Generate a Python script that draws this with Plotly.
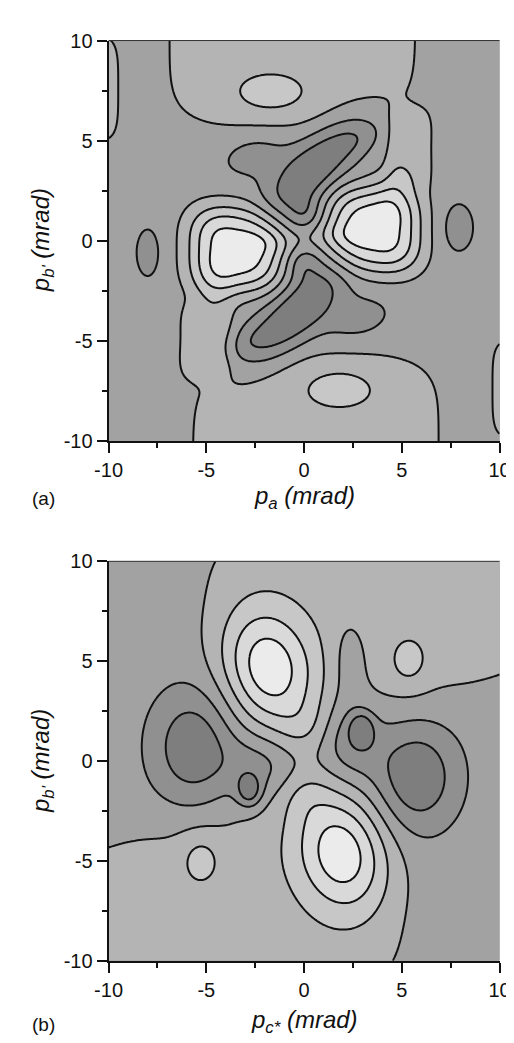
import numpy as np
import plotly.graph_objects as go

# ---------------- data: features of the two intensity maps ----------------
# per feature: centre (x0, y0) [mrad], amplitude [contour steps], widths (sx, sy) [mrad],
# tilt [deg], flatness exponents along / across (px, py)
a_name = ["top band", "bottom band", "left edge", "right edge",
          "left lobe", "right lobe", "left lobe tip", "right lobe tip",
          "left lobe corner", "right lobe corner", "left wedge", "right wedge",
          "upper well", "lower well", "upper well left", "lower well right",
          "upper well tip", "lower well tip", "upper neck", "lower neck",
          "upper spot", "lower spot", "left pit", "right pit"]
a_x0  = [-0.6, 0.6, -10.8, 10.8, -3.5, 3.6, -1.6, 1.6, -4.6, 4.6, -5.0, 5.4,
         0.3, -0.3, -2.6, 2.8, 2.7, -2.7, 0.05, -0.05, -1.7, 1.8, -8.0, 7.9]
a_y0  = [10.5, -10.5, 7.6, -7.4, -0.4, 0.5, -0.1, 0.3, -2.7, 2.7, -5.0, 4.6,
         3.45, -3.5, 4.3, -3.9, 5.1, -5.0, 1.35, -1.15, 7.25, -7.25, -0.6, 0.66]
a_amp = [1.0, 1.0, 1.0, 1.0, 4.1, 4.1, 0.7, 0.7, 0.8, 0.8, 0.9, 0.9,
         -2.5, -2.5, -0.9, -0.9, -0.7, -0.7, -1.0, -1.0, 1.0, 1.0, -1.0, -1.0]
a_sx  = [4.72, 4.72, 1.0, 0.9, 1.67, 1.67, 1.1, 1.1, 0.8, 0.8, 1.0, 0.85,
         2.4, 2.4, 1.3, 1.3, 1.0, 1.0, 0.6, 0.6, 1.7, 1.7, 0.48, 0.63]
a_sy  = [3.49, 3.49, 2.0, 1.85, 1.5, 1.5, 0.5, 0.5, 1.1, 1.1, 1.3, 1.4,
         0.9, 0.9, 0.8, 0.8, 0.55, 0.55, 0.6, 0.6, 0.95, 0.95, 0.99, 1.0]
a_ang = [0, 0, 0, 0, 0, 0, 0, 0, -25, -25, 0, 0,
         44, 44, 15, 15, 25, 25, 0, 0, 0, 0, 0, 0]
a_px  = [3, 3, 2, 2, 1.5, 1.5, 1, 1, 1, 1, 2, 2, 1, 1, 1, 1, 1, 1, 1, 1, 1, 1, 1, 1]
a_py  = [2, 2, 2, 2, 1.5, 1.5, 1, 1, 1, 1, 2, 2, 1, 1, 1, 1, 1, 1, 1, 1, 1, 1, 1, 1]

b_name = ["top band", "bottom band", "upper lobe", "lower lobe", "upper neck", "lower neck",
          "left well", "right well", "left bridge", "right bridge", "left pit", "right pit",
          "finger", "upper spot", "lower spot"]
b_x0  = [4.0, -4.0, -1.85, 1.95, 0.05, -0.05, -5.7, 5.75, -2.2, 2.4, -2.8, 2.95, 2.3, 5.37, -5.3]
b_y0  = [8.0, -8.0, 4.65, -4.6, 1.6, -1.6, 0.7, -0.8, -0.2, 1.0, -1.5, 1.6, 5.0, 4.95, -4.9]
b_amp = [1.0, 1.0, 3.4, 3.4, 0.75, 0.75, -2.3, -2.4, -1.1, -1.4, -2.0, -1.9, -0.9, 1.0, 1.0]
b_sx  = [6.1, 6.1, 1.6, 1.6, 1.0, 1.0, 1.49, 1.49, 1.3, 1.1, 0.45, 0.42, 0.7, 0.73, 0.73]
b_sy  = [4.0, 4.0, 2.1, 2.1, 1.0, 1.0, 2.0, 1.85, 1.1, 1.4, 0.57, 0.55, 1.6, 0.95, 0.95]
b_ang = [15, 15, 15, 15, 0, 0, 0, 0, 0, 0, 0, 0, 0, 0, 0]
b_px  = [3, 3, 1, 1, 1, 1, 1, 1, 1, 1, 1, 1, 1, 1, 1]
b_py  = [2, 2, 1, 1, 1, 1, 1, 1, 1, 1, 1, 1, 1, 1, 1]

level_values = [-2, -1, 0, 1, 2, 3, 4]
level_grays = ["#7e7e7e", "#909090", "#a2a2a2", "#b4b4b4", "#c7c7c7", "#d9d9d9", "#ebebeb"]

tick_vals = [-10, -5, 0, 5, 10]
tick_text = ["-10", "-5", "0", "5", "10"]

# ---------------- build the maps ----------------
g = np.linspace(-10, 10, 281)
X, Y = np.meshgrid(g, g)


def field(x0, y0, amp, sx, sy, ang, px, py):
    Z = np.zeros_like(X)
    for i in range(len(x0)):
        t = np.deg2rad(ang[i])
        dx = X - x0[i]
        dy = Y - y0[i]
        u = dx * np.cos(t) + dy * np.sin(t)
        v = -dx * np.sin(t) + dy * np.cos(t)
        qu = (0.5 * (u / sx[i]) ** 2) ** px[i]
        qv = (0.5 * (v / sy[i]) ** 2) ** py[i]
        Z += amp[i] * np.exp(-(qu + qv))
    return Z


za = field(a_x0, a_y0, a_amp, a_sx, a_sy, a_ang, a_px, a_py)
zb = field(b_x0, b_y0, b_amp, b_sx, b_sy, b_ang, b_px, b_py)

# stepwise grey scale: one flat colour per contour band
zmin, zmax = level_values[0] - 0.5, level_values[-1] + 0.5
n = len(level_values)
cs = []
for i, c in enumerate(level_grays):
    cs.append([i / n, c])
    cs.append([(i + 1) / n, c])

common = dict(
    x=g, y=g,
    contours=dict(start=-1.5, end=3.5, size=1, coloring="fill"),
    colorscale=cs, zmin=zmin, zmax=zmax, zauto=False,
    line=dict(color="#111111", width=2, smoothing=1.0),
    showscale=False, hoverinfo="skip",
)

fig = go.Figure()
fig.add_trace(go.Contour(z=za, xaxis="x", yaxis="y", **common))
fig.add_trace(go.Contour(z=zb, xaxis="x2", yaxis="y2", **common))

W, H = 514, 1043
xl, xr = 91, 502
ya_top, ya_bot = 22, 431
yb_top, yb_bot = 554, 962

font = dict(family="Liberation Sans, Arial, sans-serif", size=20, color="#111111")
axis_common = dict(
    range=[-10, 10], tickmode="array", tickvals=tick_vals, ticktext=tick_text,
    ticks="outside", ticklen=10, tickwidth=2, tickcolor="#111111",
    minor=dict(dtick=2.5, tick0=0, ticks="outside", ticklen=5, tickwidth=2, tickcolor="#111111"),
    showline=True, linewidth=2, linecolor="#111111", showgrid=False, zeroline=False,
    tickfont=font, mirror=False,
)

fig.update_layout(
    width=W, height=H, margin=dict(l=0, r=0, t=0, b=0),
    paper_bgcolor="white", plot_bgcolor="white", showlegend=False,
    xaxis=dict(domain=[xl / W, xr / W], anchor="y", **axis_common),
    yaxis=dict(domain=[1 - ya_bot / H, 1 - ya_top / H], anchor="x", **axis_common),
    xaxis2=dict(domain=[xl / W, xr / W], anchor="y2", **axis_common),
    yaxis2=dict(domain=[1 - yb_bot / H, 1 - yb_top / H], anchor="x2", **axis_common),
)

# thin top frame line
for yt in (ya_top, yb_top):
    fig.add_shape(type="line", xref="paper", yref="paper", x0=xl / W, x1=xr / W,
                  y0=1 - yt / H, y1=1 - yt / H, line=dict(color="#333333", width=1))

tfont = dict(family="Liberation Sans, Arial, sans-serif", size=24, color="#111111")
lfont = dict(family="Liberation Sans, Arial, sans-serif", size=19, color="#111111")
ann = [
    dict(text="(a)", x=8 / W, y=1 - 490 / H, xanchor="left", yanchor="middle", font=lfont),
    dict(text="(b)", x=8 / W, y=1 - 1027 / H, xanchor="left", yanchor="middle", font=lfont),
    dict(text="<i>p</i><sub><i>a</i></sub><i> (mrad)</i>", x=297 / W, y=1 - 489 / H,
         xanchor="center", yanchor="middle", font=tfont),
    dict(text="<i>p</i><sub><i>c*</i></sub><i> (mrad)</i>", x=297 / W, y=1 - 1024 / H,
         xanchor="center", yanchor="middle", font=tfont),
    dict(text="<i>p</i><sub><i>b'</i></sub><i> (mrad)</i>", x=21 / W, y=1 - 226 / H,
         xanchor="center", yanchor="middle", textangle=-90, font=tfont),
    dict(text="<i>p</i><sub><i>b'</i></sub><i> (mrad)</i>", x=21 / W, y=1 - 758 / H,
         xanchor="center", yanchor="middle", textangle=-90, font=tfont),
]
for a in ann:
    a.update(xref="paper", yref="paper", showarrow=False)
fig.update_layout(annotations=ann)

fig.write_html("out.html")
